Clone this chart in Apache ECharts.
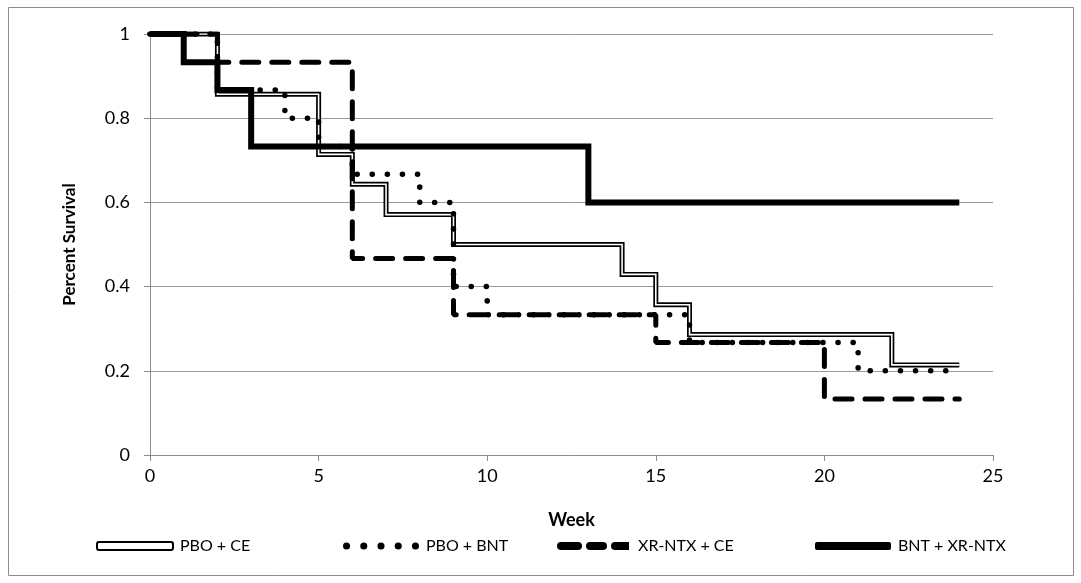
<!DOCTYPE html>
<html>
<head>
<meta charset="utf-8">
<script src="https://cdn.jsdelivr.net/npm/echarts@6/dist/echarts.min.js"></script>
<style>
html, body { margin: 0; padding: 0; background: #fff; }
#main { width: 1081px; height: 583px; }
</style>
</head>
<body>
<div id="main"></div>
<script>
// step points [week, survival], value changes at each listed week
var pboCe = [[0, 1], [2, 0.857], [5, 0.714], [6, 0.643], [7, 0.571], [9, 0.5], [14, 0.429], [15, 0.357], [16, 0.286], [22, 0.214], [24, 0.214]]
var pboBnt = [[0, 1], [2, 0.867], [4, 0.8], [5, 0.733], [6, 0.667], [8, 0.6], [9, 0.4], [10, 0.333], [16, 0.267], [21, 0.2], [24, 0.2]]
var xrCe = [[0, 1], [2, 0.933], [6, 0.467], [9, 0.333], [15, 0.267], [20, 0.133], [24, 0.133]]
var bntXr = [[0, 1], [1, 0.933], [2, 0.867], [3, 0.733], [13, 0.6], [24, 0.6]]

var seriesNames = ['PBO + CE', 'PBO + BNT', 'XR-NTX + CE', 'BNT + XR-NTX']
var legendLeft = [96, 343, 557, 815]

var font = '"Liberation Sans Narrow", Lato, sans-serif'

// legend icons drawn in a 76 x 8 box
function dots () {
    var p = ''
    for (var i = 0; i < 5; i++) {
        var cx = 4 + i * 17
        p += 'M' + (cx - 3.5) + ',4 a3.5,3.5 0 1,0 7,0 a3.5,3.5 0 1,0 -7,0 Z '
    }
    return 'path://' + p
}
var dashIcon = 'path://M4,0 H21 A4,4 0 0,1 21,8 H4 A4,4 0 0,1 4,0 Z M33,0 H46 A4,4 0 0,1 46,8 H33 A4,4 0 0,1 33,0 Z M58,0 H72 L72,8 H58 A4,4 0 0,1 58,0 Z'

var legendIcons = [
    { icon: 'roundRect', itemStyle: { color: '#fff', borderColor: '#000', borderWidth: 2 } },
    { icon: dots(), itemStyle: { color: '#000', borderWidth: 0 } },
    { icon: dashIcon, itemStyle: { color: '#000', borderWidth: 0 } },
    { icon: 'roundRect', itemStyle: { color: '#000', borderWidth: 0 } }
]

var legends = []
for (var i = 0; i < seriesNames.length; i++) {
    legends.push({
        left: legendLeft[i],
        top: 538,
        padding: 0,
        itemWidth: 76,
        itemHeight: 8,
        itemGap: 0,
        selectedMode: false,
        textStyle: { fontFamily: font, fontSize: 16, color: '#000', padding: [0, 0, 0, 2] },
        data: [{
            name: seriesNames[i],
            icon: legendIcons[i].icon,
            itemStyle: legendIcons[i].itemStyle
        }]
    })
}

var myChart = echarts.init(document.getElementById('main'))

var option = {
    backgroundColor: '#fff',
    animation: false,
    graphic: [{
        type: 'rect',
        shape: { x: 8.5, y: 7.5, width: 1065, height: 568 },
        style: { fill: 'none', stroke: '#8c8c8c', lineWidth: 1 },
        silent: true
    }],
    legend: legends,
    grid: { left: 150, right: 88, top: 34, bottom: 128 },
    xAxis: {
        type: 'value',
        min: 0,
        max: 25,
        interval: 5,
        name: 'Week',
        nameLocation: 'middle',
        nameGap: 56,
        nameTextStyle: { fontFamily: font, fontSize: 18, fontWeight: 'bold', color: '#000' },
        axisLine: { lineStyle: { color: '#8c8c8c', width: 1 } },
        axisTick: { show: true, length: 6, lineStyle: { color: '#8c8c8c' } },
        axisLabel: { fontFamily: font, fontSize: 18, color: '#000', margin: 12 },
        splitLine: { show: false }
    },
    yAxis: {
        type: 'value',
        min: 0,
        max: 1,
        interval: 0.2,
        name: 'Percent Survival',
        nameLocation: 'middle',
        nameGap: 72,
        nameTextStyle: { fontFamily: font, fontSize: 17, fontWeight: 'bold', color: '#000' },
        axisLine: { show: true, lineStyle: { color: '#8c8c8c', width: 1 } },
        axisTick: { show: true, length: 6, lineStyle: { color: '#8c8c8c' } },
        axisLabel: { fontFamily: font, fontSize: 18, color: '#000', margin: 20 },
        splitLine: { show: true, lineStyle: { color: '#9a9a9a', width: 1 } }
    },
    series: [{
        name: 'PBO + CE',
        type: 'line',
        step: 'end',
        symbol: 'none',
        data: pboCe,
        lineStyle: { color: '#000', width: 5, join: 'miter' },
        itemStyle: { color: '#000' },
        z: 2
    }, {
        name: 'PBO + CE inner',
        type: 'line',
        step: 'end',
        symbol: 'none',
        data: pboCe,
        lineStyle: { color: '#fff', width: 1.6, join: 'miter' },
        z: 2
    }, {
        name: 'PBO + BNT',
        type: 'line',
        step: 'end',
        symbol: 'none',
        data: pboBnt,
        lineStyle: { color: '#000', width: 5.5, type: [0.1, 15], cap: 'round' },
        itemStyle: { color: '#000' },
        z: 3
    }, {
        name: 'XR-NTX + CE',
        type: 'line',
        step: 'end',
        symbol: 'none',
        data: xrCe,
        lineStyle: { color: '#000', width: 5, type: [17, 13], cap: 'round' },
        itemStyle: { color: '#000' },
        z: 4
    }, {
        name: 'BNT + XR-NTX',
        type: 'line',
        step: 'end',
        symbol: 'none',
        data: bntXr,
        lineStyle: { color: '#000', width: 6, join: 'miter' },
        itemStyle: { color: '#000' },
        z: 5
    }]
}

myChart.setOption(option)
window.onresize = myChart.resize
</script>
</body>
</html>
